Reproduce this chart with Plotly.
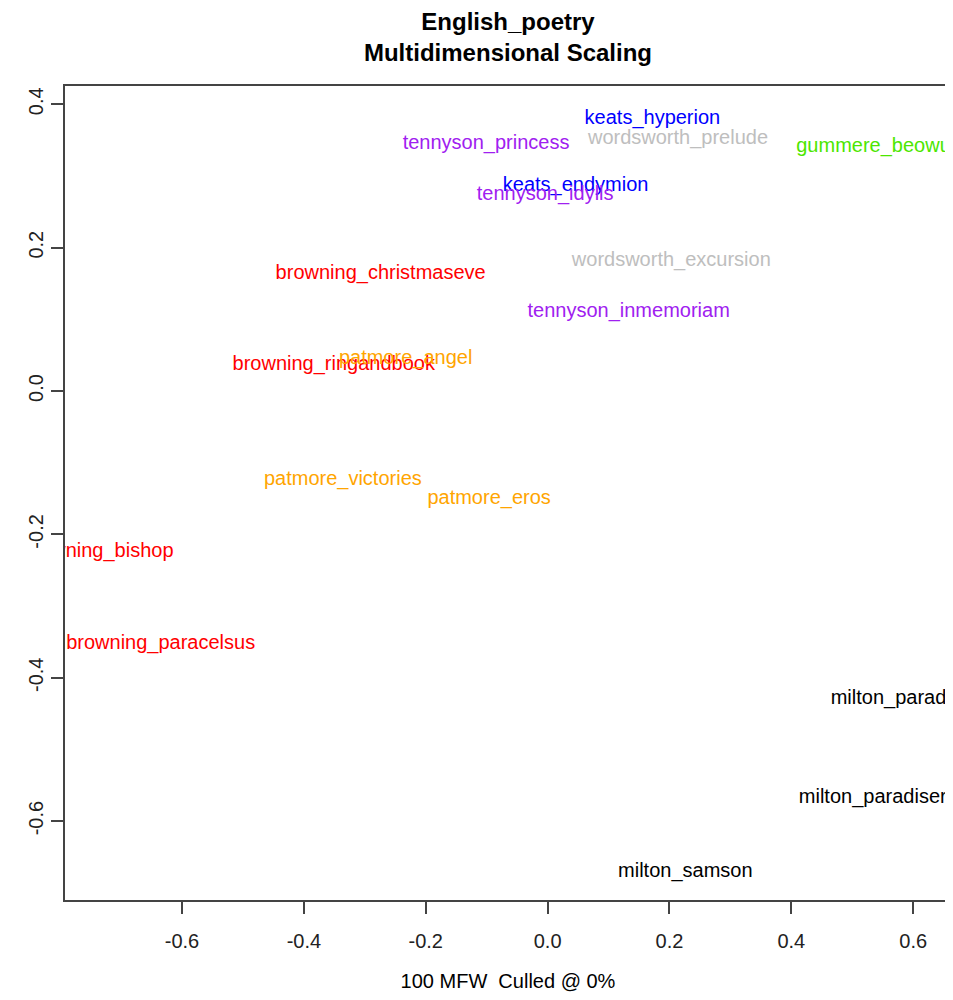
import plotly.graph_objects as go

labels = ["keats_hyperion", "wordsworth_prelude", "gummere_beowulf", "tennyson_princess",
          "keats_endymion", "tennyson_idylls", "wordsworth_excursion", "browning_christmaseve",
          "tennyson_inmemoriam", "browning_ringandbook", "patmore_angel", "patmore_victories",
          "patmore_eros", "browning_bishop", "browning_paracelsus", "milton_paradiselost",
          "milton_paradiseregained", "milton_samson"]
x_vals = [0.172, 0.214, 0.543, -0.101, 0.046, -0.004, 0.203, -0.274, 0.133, -0.351, -0.233,
          -0.336, -0.096, -0.738, -0.635, 0.606, 0.592, 0.226]
y_vals = [0.380, 0.351, 0.341, 0.344, 0.286, 0.273, 0.182, 0.163, 0.110, 0.037, 0.044,
          -0.124, -0.151, -0.225, -0.353, -0.430, -0.568, -0.671]
colors = ["#0000FF", "#BEBEBE", "#4CE600", "#A020F0", "#0000FF", "#A020F0", "#BEBEBE", "#FF0000",
          "#A020F0", "#FF0000", "#FFA500", "#FFA500", "#FFA500", "#FF0000", "#FF0000", "#000000",
          "#000000", "#000000"]

x_ticks = [-0.6, -0.4, -0.2, 0.0, 0.2, 0.4, 0.6]
x_ticktext = ["-0.6", "-0.4", "-0.2", "0.0", "0.2", "0.4", "0.6"]
y_ticks = [-0.6, -0.4, -0.2, 0.0, 0.2, 0.4]
y_ticktext = ["-0.6", "-0.4", "-0.2", "0.0", "0.2", "0.4"]

FONT = "Liberation Sans, Arial, Helvetica, sans-serif"

fig = go.Figure()
fig.add_trace(go.Scatter(
    x=x_vals, y=y_vals, mode="text", text=labels,
    textposition="middle center",
    textfont=dict(family=FONT, size=20, color=colors),
    cliponaxis=True, hoverinfo="text", showlegend=False,
))

axis_common = dict(
    showgrid=False, zeroline=False, showline=True, mirror=True,
    linecolor="#444444", linewidth=1.5, ticks="outside", ticklen=12,
    tickcolor="#444444", tickwidth=1.5, automargin=False,
    tickfont=dict(family=FONT, size=20, color="#222222"),
)

# page body adds an 8px margin, so the figure is sized to fit the 953x1000 window
fig.update_layout(
    width=945, height=984,
    paper_bgcolor="white", plot_bgcolor="white",
    margin=dict(l=57, r=2, t=78, b=92),
    title=dict(
        text="<b>English_poetry</b><br><b>Multidimensional Scaling</b>",
        font=dict(family=FONT, size=24, color="#000000"),
        x=0.5, xref="paper", xanchor="center",
        y=0.978, yref="container", yanchor="top", automargin=False,
    ),
    xaxis=dict(range=[-0.792, 0.662], tickvals=x_ticks, ticktext=x_ticktext,
               ticklabelstandoff=10,
               title=dict(text="100 MFW\u00a0\u00a0Culled @ 0%",
                          font=dict(family=FONT, size=20, color="#000000"), standoff=40),
               **axis_common),
    yaxis=dict(range=[-0.710, 0.4255], tickvals=y_ticks, ticktext=y_ticktext,
               tickangle=-90, **axis_common),
)

fig.write_html("out.html")
